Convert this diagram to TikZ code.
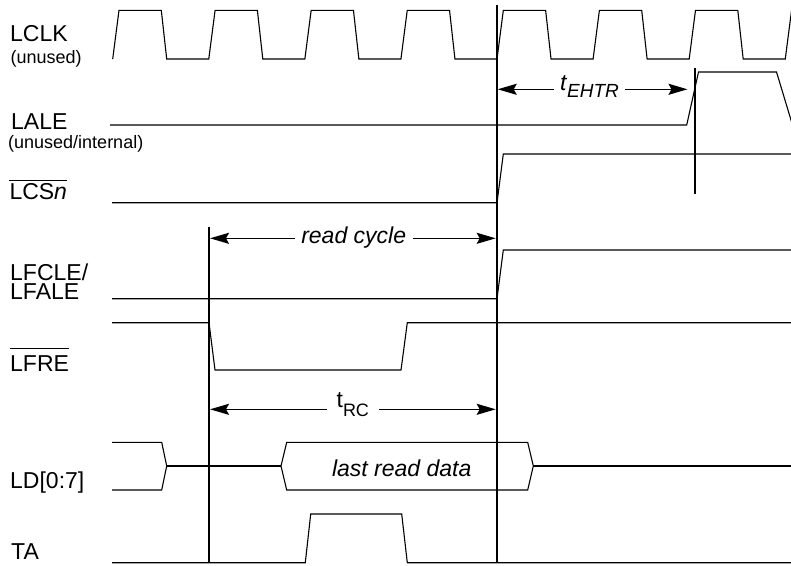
\documentclass[tikz,border=0pt]{standalone}
\usepackage{fontspec}
\setmainfont{Liberation Sans}
\usetikzlibrary{arrows.meta}
\tikzset{
  sig/.style={line width=1.1pt, line join=miter},
  marker/.style={line width=2pt},
  dimarrow/.style={line width=1.6pt, {Stealth[length=19pt,width=11pt,inset=3pt]}-{Stealth[length=19pt,width=11pt,inset=3pt]}},
  lbl/.style={inner sep=0pt, anchor=base west, font=\fontsize{23}{26}\selectfont},
  sublbl/.style={inner sep=0pt, anchor=base west, font=\fontsize{18}{20}\selectfont},
  dimlbl/.style={anchor=base, fill=white, inner ysep=1pt, font=\fontsize{23}{26}\selectfont},
  ovl/.style={line width=1.2pt}
}
\begin{document}
\begin{tikzpicture}[x=1pt,y=-1pt]
\useasboundingbox (0,0) rectangle (791,565);

% ---- labels ----
\node[lbl] (lclk) at (10,41.7) {LCLK};
\node[sublbl] (lclku) at (10.4,63.5) {(unused)};
\node[lbl] (lale) at (11,129.3) {LALE};
\node[sublbl] (laleu) at (8,148.3) {(unused/internal)};
\node[lbl] (lcs) at (9.3,199.3) {LCS\textit{n}};
\draw[ovl] ([yshift=2.6pt]lcs.north west) -- ([yshift=2.6pt]lcs.north east);
\node[lbl] (lfcle) at (10,280.4) {LFCLE/};
\node[lbl] (lfale) at (10,299.6) {LFALE};
\node[lbl] (lfre) at (10,371.7) {LFRE};
\draw[ovl] ([yshift=6.9pt]lfre.north west) -- ([yshift=6.9pt]lfre.north east);
\node[lbl] (ld) at (10,488.3) {LD[0:7]};
\node[lbl] (ta) at (11,559.3) {TA};

% ---- waveforms ----
\begin{scope}
\clip (0,0) rectangle (791,565);
% LCLK
\draw[sig] (112.7,59) \foreach \k in {0,...,7}{ -- ({112.7+96.08*\k},59) -- ({119+96.08*\k},10.3) -- ({161.3+96.08*\k},10.3) -- ({166.7+96.08*\k},59) };
% LALE
\draw[sig] (110,125) -- (686.7,125) -- (698.5,72) -- (776.5,72) -- (792.5,125);
\end{scope}
% LCSn
\draw[sig] (112,202.7) -- (497,202.7) -- (503.3,154) -- (791,154);
% LFCLE/LFALE
\draw[sig] (112,298.7) -- (497,298.7) -- (503.3,250) -- (791,250);
% LFRE
\draw[sig] (112,322.7) -- (209,322.7) -- (215,370) -- (401,370) -- (407.3,322.7) -- (791,322.7);
% LD[0:7]
\draw[sig] (112,442.3) -- (161.7,442.3) -- (166.7,466) -- (161.7,490) -- (112,490);
\draw[sig] (166.7,466) -- (281,466);
\draw[sig] (281,466) -- (286.7,442.3) -- (527.7,442.3) -- (533.3,466) -- (527.7,490) -- (286.7,490) -- cycle;
\draw[sig] (533.3,466) -- (791,466);
\node[font=\fontsize{23}{26}\selectfont\itshape, anchor=base, inner sep=0pt] (data) at (401.7,476.7) {last read data};
% TA
\draw[sig] (112,562.7) -- (305.3,562.7) -- (310.7,514) -- (401.7,514) -- (407.3,562.7) -- (791,562.7);

% ---- markers ----
\coordinate (m1t) at (209,226.7);
\coordinate (m1b) at (209,562.7);
\coordinate (m2t) at (496.7,5);
\coordinate (m2b) at (496.7,563);
\coordinate (m3t) at (695,68.3);
\coordinate (m3b) at (695,194.3);
\draw[marker] (m1t) -- (m1b);
\draw[marker] (m2t) -- (m2b);
\draw[marker] (m3t) -- (m3b);

% ---- dimension arrows ----
\coordinate (e1) at (497.7,89.3);
\coordinate (e2) at (687.5,89.3);
\draw[dimarrow] (e1) -- (e2);
\node[dimlbl, inner xsep=6.5pt] (tehtr) at (589.5,90.7) {\textit{t}\raisebox{-6.6pt}{\fontsize{19}{21}\selectfont\textit{EHTR}}};

\coordinate (r1) at (210,238.3);
\coordinate (r2) at (495.7,238.3);
\draw[dimarrow] (r1) -- (r2);
\node[dimlbl, inner xsep=6.7pt, font=\fontsize{23}{26}\selectfont\itshape] (rc) at (353.7,243) {read cycle};

\coordinate (c1) at (210,409.3);
\coordinate (c2) at (495.7,409.3);
\draw[dimarrow] (c1) -- (c2);
\node[dimlbl, inner xsep=10pt] (trc) at (352.8,407.3) {t\raisebox{-9.4pt}{\fontsize{18}{20}\selectfont RC}};
\end{tikzpicture}
\end{document}
